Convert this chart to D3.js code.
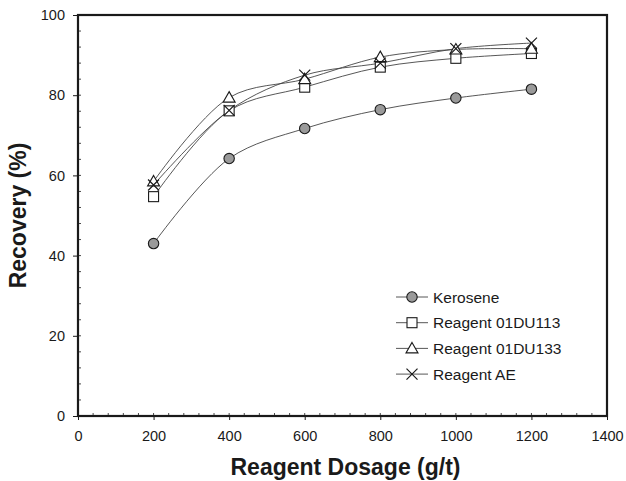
<!DOCTYPE html>
<html>
<head>
<meta charset="utf-8">
<script src="https://cdn.jsdelivr.net/npm/d3@7"></script>
<style>
  html, body { margin: 0; padding: 0; background: #fff; }
  svg { display: block; font-family: "Liberation Sans", Arial, sans-serif; }
</style>
</head>
<body>
<svg id="chart" width="626" height="481"></svg>
<script>
// Flotation recovery against collector dosage
const dosages = [200, 400, 600, 800, 1000, 1200];
const kerosene = [43, 64.2, 71.7, 76.4, 79.3, 81.5];
const reagent01DU113 = [54.7, 76.1, 82, 87, 89.2, 90.4];
const reagent01DU133 = [58.5, 79.4, 84, 89.5, 91.4, 91.6];
const reagentAE = [57.6, 76.2, 85, 88, 91.6, 93];
const seriesNames = ["Kerosene", "Reagent 01DU113", "Reagent 01DU133", "Reagent AE"];
const xTicks = [0, 200, 400, 600, 800, 1000, 1200, 1400];
const yTicks = [0, 20, 40, 60, 80, 100];

const seriesValues = [kerosene, reagent01DU113, reagent01DU133, reagentAE];
const markerKinds = ["circle", "square", "triangle", "cross"];

const svg = d3.select("#chart");
const margin = { left: 78, right: 19, top: 15, bottom: 65 };
const W = 626, H = 481;
const x = d3.scaleLinear().domain([0, 1400]).range([margin.left, W - margin.right]);
const y = d3.scaleLinear().domain([0, 100]).range([H - margin.bottom, margin.top]);

const ink = "#1a1a1a";

// minor ticks (inside)
const g = svg.append("g");
d3.range(0, 1401, 40).forEach(v => {
  g.append("line").attr("x1", x(v)).attr("x2", x(v))
    .attr("y1", y(0)).attr("y2", y(0) - 3).attr("stroke", ink).attr("stroke-width", 0.8);
});
d3.range(0, 101, 4).forEach(v => {
  g.append("line").attr("x1", x(0)).attr("x2", x(0) + 3)
    .attr("y1", y(v)).attr("y2", y(v)).attr("stroke", ink).attr("stroke-width", 0.8);
});

// axes
const xAxis = d3.axisBottom(x).tickValues(xTicks).tickFormat(d3.format("d")).tickSize(4).tickPadding(11);
const yAxis = d3.axisLeft(y).tickValues(yTicks).tickFormat(d3.format("d")).tickSize(5).tickPadding(8);
const gx = svg.append("g").attr("transform", `translate(0,${y(0)})`).call(xAxis);
const gy = svg.append("g").attr("transform", `translate(${x(0)},0)`).call(yAxis);
[gx, gy].forEach(a => {
  a.select(".domain").remove();
  a.selectAll("line").attr("stroke", ink).attr("stroke-width", 1);
  a.selectAll("text").attr("font-size", 14.5).attr("fill", ink)
    .attr("font-family", "Liberation Sans, Arial, sans-serif");
});

// frame
svg.append("rect")
  .attr("x", x(0)).attr("y", y(100))
  .attr("width", x(1400) - x(0)).attr("height", y(0) - y(100))
  .attr("fill", "none").attr("stroke", ink).attr("stroke-width", 2.2);

// axis titles
svg.append("text").attr("x", (x(0) + x(1400)) / 2 + 3).attr("y", 475)
  .attr("text-anchor", "middle").attr("font-size", 23).attr("font-weight", "bold")
  .attr("fill", ink).text("Reagent Dosage (g/t)");
svg.append("text")
  .attr("transform", `translate(26,${(y(0) + y(100)) / 2}) rotate(-90)`)
  .attr("text-anchor", "middle").attr("font-size", 23).attr("font-weight", "bold")
  .attr("fill", ink).text("Recovery (%)");

// smoothed lines
const line = d3.line().x(d => x(d[0])).y(d => y(d[1])).curve(d3.curveCatmullRom.alpha(0.5));
seriesValues.forEach(vals => {
  svg.append("path").datum(dosages.map((d, i) => [d, vals[i]]))
    .attr("d", line).attr("fill", "none").attr("stroke", "#444").attr("stroke-width", 0.9);
});

function drawMarker(sel, kind, cx, cy) {
  if (kind === "circle") {
    sel.append("circle").attr("cx", cx).attr("cy", cy).attr("r", 5.2)
      .attr("fill", "#9a9a9a").attr("stroke", ink).attr("stroke-width", 1.1);
  } else if (kind === "square") {
    sel.append("rect").attr("x", cx - 5).attr("y", cy - 5).attr("width", 10).attr("height", 10)
      .attr("fill", "#fff").attr("stroke", ink).attr("stroke-width", 1.1);
  } else if (kind === "triangle") {
    sel.append("path").attr("d", `M${cx},${cy - 6}L${cx + 6},${cy + 4.5}L${cx - 6},${cy + 4.5}Z`)
      .attr("fill", "#fff").attr("stroke", ink).attr("stroke-width", 1.1);
  } else {
    sel.append("path").attr("d", `M${cx - 5.5},${cy - 5.5}L${cx + 5.5},${cy + 5.5}M${cx + 5.5},${cy - 5.5}L${cx - 5.5},${cy + 5.5}`)
      .attr("fill", "none").attr("stroke", ink).attr("stroke-width", 1.2);
  }
}

seriesValues.forEach((vals, si) => {
  const mg = svg.append("g");
  dosages.forEach((d, i) => drawMarker(mg, markerKinds[si], x(d), y(vals[i])));
});

// legend
const lg = svg.append("g");
seriesNames.forEach((name, i) => {
  const ly = 297 + i * 25.7;
  lg.append("line").attr("x1", 396).attr("x2", 428).attr("y1", ly).attr("y2", ly)
    .attr("stroke", "#444").attr("stroke-width", 0.9);
  drawMarker(lg, markerKinds[i], 412, ly);
  lg.append("text").attr("x", 433).attr("y", ly + 5.5).attr("font-size", 15.5)
    .attr("fill", ink).text(name);
});
</script>
</body>
</html>
